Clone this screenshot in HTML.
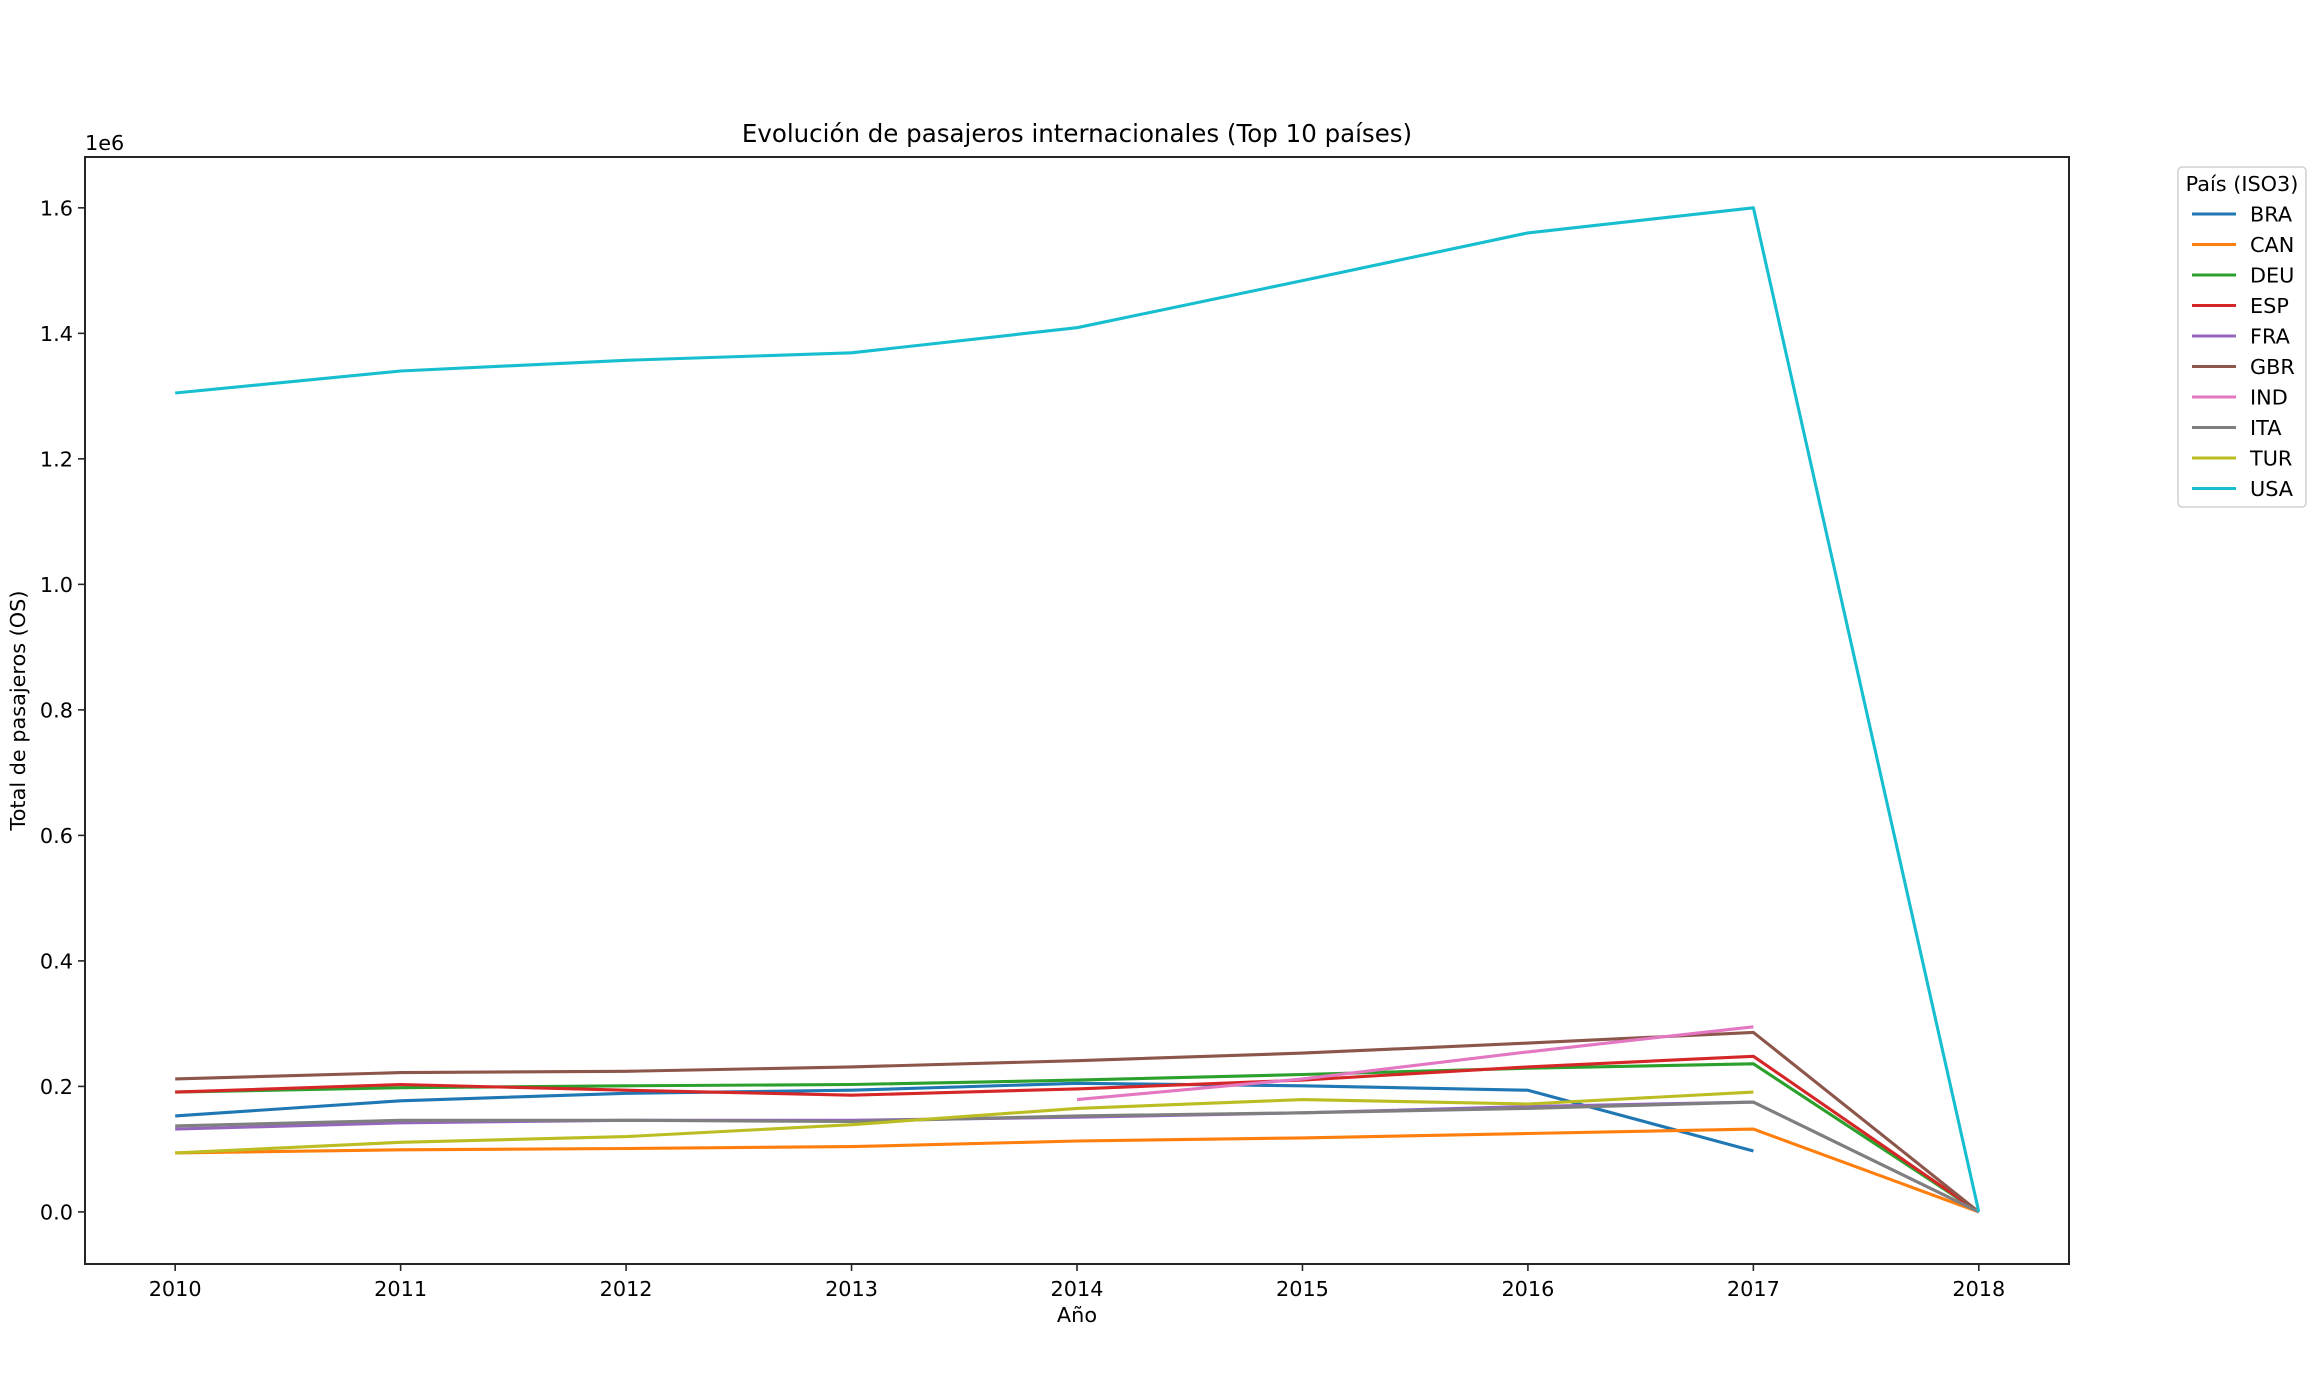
<!DOCTYPE html>
<html><head><meta charset="utf-8"><style>
html,body{margin:0;padding:0;background:#fff;}
svg{display:block;font-family:"DejaVu Sans","Liberation Sans",sans-serif;}
</style></head><body>
<svg id="chart" width="2324" height="1396" viewBox="0 0 2324 1396" xmlns="http://www.w3.org/2000/svg"></svg>
<script>
const years = [2010,2011,2012,2013,2014,2015,2016,2017,2018];
const seriesNames = ["BRA","CAN","DEU","ESP","FRA","GBR","IND","ITA","TUR","USA"];
const colors = ["#1f77b4","#ff7f0e","#2ca02c","#d62728","#9467bd","#8c564b","#e377c2","#7f7f7f","#bcbd22","#17becf"];
const BRA = [0.153,0.177,0.189,0.194,0.205,0.201,0.194,0.097,null];
const CAN = [0.094,0.099,0.101,0.104,0.113,0.118,0.125,0.132,0];
const DEU = [0.191,0.198,0.201,0.203,0.210,0.219,0.229,0.236,0];
const ESP = [0.191,0.203,0.194,0.186,0.196,0.210,0.231,0.248,0];
const FRA = [0.132,0.142,0.146,0.146,0.151,0.158,0.168,0.175,0];
const GBR = [0.212,0.222,0.224,0.231,0.241,0.253,0.269,0.286,0];
const IND = [null,null,null,null,0.179,0.212,0.255,0.295,null];
const ITA = [0.137,0.146,0.146,0.144,0.153,0.158,0.165,0.175,0];
const TUR = [0.094,0.111,0.120,0.139,0.165,0.179,0.172,0.191,null];
const USA = [1.305,1.340,1.357,1.369,1.409,1.484,1.560,1.600,0];
const yTicks = [0.0,0.2,0.4,0.6,0.8,1.0,1.2,1.4,1.6];
const allSeries = [BRA,CAN,DEU,ESP,FRA,GBR,IND,ITA,TUR,USA];

const NS="http://www.w3.org/2000/svg";
const svg=document.getElementById('chart');
const L=85,R=2069,T=157,B=1264;
const xMin=2009.6,xMax=2018.4,yMin=-0.083,yMax=1.681;
function xs(v){return L+(v-xMin)/(xMax-xMin)*(R-L);}
function ys(v){return B-(v-yMin)/(yMax-yMin)*(B-T);}
function mk(tag,attrs,parent){const e=document.createElementNS(NS,tag);for(const k in attrs)e.setAttribute(k,attrs[k]);(parent||svg).appendChild(e);return e;}
function txt(s,attrs,parent){const e=mk('text',attrs,parent);e.textContent=s;return e;}

const t1=txt("Evolución de pasajeros internacionales (Top 10 países)",{x:(L+R)/2,y:142,'text-anchor':'middle','font-size':24.5,fill:'#000'});



// series
const gS=mk('g',{});


allSeries.forEach((s,i)=>{
  let d='',pen=false;
  s.forEach((v,j)=>{
    if(v===null){pen=false;return;}
    d+=(pen?'L':'M')+xs(years[j]).toFixed(1)+','+ys(v).toFixed(1);pen=true;
  });
  const p=mk('path',{d:d,fill:'none',stroke:colors[i],'stroke-width':3.1,'stroke-linejoin':'round','stroke-linecap':'butt'},gS);
  
  
});

// axes frame
const fr=mk('rect',{x:L,y:T,width:R-L,height:B-T,fill:'none',stroke:'#262626','stroke-width':2});



// x ticks
const gX=mk('g',{});


years.forEach(y=>{
  const x=xs(y);
  mk('line',{x1:x,x2:x,y1:B,y2:B+7,stroke:'#262626','stroke-width':1.6},gX);
  const t=txt(String(y),{x:x,y:B+32,'text-anchor':'middle','font-size':20.8,fill:'#000'},gX);
  
  
});
const xl=txt("Año",{x:(L+R)/2,y:1322,'text-anchor':'middle','font-size':20.8,fill:'#000'});



// y ticks
const gY=mk('g',{});


yTicks.forEach(v=>{
  const y=ys(v);
  mk('line',{x1:L-7,x2:L,y1:y,y2:y,stroke:'#262626','stroke-width':1.6},gY);
  const t=txt(v.toFixed(1),{x:L-12,y:y+7.5,'text-anchor':'end','font-size':20.8,fill:'#000'},gY);
  
  
});
const off=txt("1e6",{x:L,y:150,'font-size':20.8,fill:'#000'});


const yl=txt("Total de pasajeros (OS)",{x:0,y:0,'text-anchor':'middle','font-size':20.8,fill:'#000',transform:'translate(25,'+((T+B)/2)+') rotate(-90)'});



// legend
const gL=mk('g',{});


mk('rect',{x:2178,y:167,width:128,height:340,rx:4,fill:'#fff',stroke:'#d0d0d0','stroke-width':1.5},gL);
const lt=txt("País (ISO3)",{x:2242,y:191,'text-anchor':'middle','font-size':20.8,fill:'#000'},gL);


seriesNames.forEach((n,i)=>{
  const y=214+i*30.5;
  const g=mk('g',{},gL);
  
  
  mk('line',{x1:2192,x2:2236,y1:y,y2:y,stroke:colors[i],'stroke-width':3.1},g);
  txt(n,{x:2250,y:y+7.5,'font-size':20.8,fill:'#000'},g);
});
</script>
</body></html>
